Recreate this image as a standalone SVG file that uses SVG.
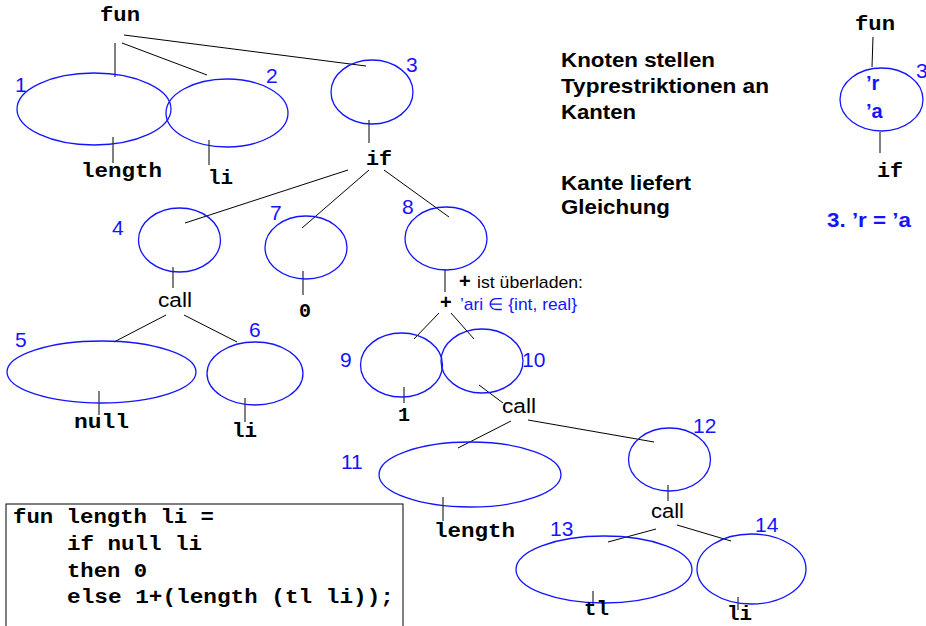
<svg xmlns="http://www.w3.org/2000/svg" width="926" height="626" viewBox="0 0 926 626">
<style>
.e{fill:none;stroke:#1414ff;stroke-width:1.3}
.c line{stroke:#000;stroke-width:1}
.m{font-family:"Liberation Mono","Courier New",monospace;font-weight:bold;font-size:20px;fill:#000}
.n{font-family:"Liberation Sans",Arial,sans-serif;font-size:21px;fill:#1414ff}
.k{font-family:"Liberation Sans",Arial,sans-serif;font-size:20px;fill:#000}
.b{font-family:"Liberation Sans",Arial,sans-serif;font-weight:bold;font-size:20px;fill:#000}
.bb{font-family:"Liberation Sans",Arial,sans-serif;font-weight:bold;font-size:20px;fill:#1414ff}
.s{font-family:"Liberation Sans",Arial,sans-serif;font-size:17px;fill:#000}
.sb{font-family:"Liberation Sans",Arial,sans-serif;font-size:17px;fill:#1414ff}
</style>
<rect width="926" height="626" fill="#fff"/>
<g class="c" id="connectors">
<line x1="115" y1="43" x2="115" y2="77"/>
<line x1="122" y1="43" x2="207" y2="75"/>
<line x1="124" y1="35" x2="366" y2="66"/>
<line x1="113" y1="137" x2="113" y2="163"/>
<line x1="209" y1="140" x2="209" y2="165"/>
<line x1="369" y1="120" x2="369" y2="143"/>
<line x1="348" y1="170" x2="185" y2="223"/>
<line x1="369" y1="170" x2="302" y2="228"/>
<line x1="384" y1="170" x2="449" y2="217"/>
<line x1="173" y1="267" x2="173" y2="288"/>
<line x1="303" y1="271" x2="303" y2="295"/>
<line x1="445" y1="269" x2="445" y2="292"/>
<line x1="166" y1="315" x2="114" y2="342"/>
<line x1="184" y1="315" x2="237" y2="342"/>
<line x1="99" y1="391" x2="99" y2="415"/>
<line x1="245" y1="398" x2="245" y2="422"/>
<line x1="439" y1="313" x2="414" y2="339"/>
<line x1="451" y1="313" x2="474" y2="339"/>
<line x1="404" y1="387" x2="404" y2="403"/>
<line x1="479" y1="385" x2="503" y2="403"/>
<line x1="511" y1="421" x2="458" y2="448"/>
<line x1="528" y1="420" x2="654" y2="442"/>
<line x1="443" y1="497" x2="443" y2="521"/>
<line x1="668" y1="485" x2="668" y2="501"/>
<line x1="656" y1="529" x2="608" y2="542"/>
<line x1="677" y1="525" x2="731" y2="541"/>
<line x1="593" y1="591" x2="593" y2="606"/>
<line x1="738" y1="597" x2="738" y2="610"/>
<line x1="873" y1="37" x2="872" y2="67"/>
<line x1="880" y1="132" x2="880" y2="153"/>
</g>
<g id="fun"><text class="m" x="100" y="21" textLength="40" lengthAdjust="spacingAndGlyphs">fun</text></g>
<g id="n1"><ellipse class="e" cx="94" cy="109" rx="77" ry="36"/><text class="n" x="15" y="92">1</text></g>
<g id="n2"><ellipse class="e" cx="227" cy="113" rx="61" ry="34"/><text class="n" x="266" y="83">2</text></g>
<g id="n3"><ellipse class="e" cx="372" cy="92" rx="41" ry="32"/><text class="n" x="406" y="72">3</text></g>
<g id="length1"><text class="m" x="81" y="177" textLength="81" lengthAdjust="spacingAndGlyphs">length</text></g>
<g id="li1"><text class="m" x="208" y="184" textLength="25" lengthAdjust="spacingAndGlyphs">li</text></g>
<g id="if"><text class="m" x="366" y="165" textLength="26" lengthAdjust="spacingAndGlyphs">if</text></g>
<g id="n4"><ellipse class="e" cx="179.5" cy="240" rx="41" ry="32"/><text class="n" x="112" y="235">4</text></g>
<g id="n7"><ellipse class="e" cx="306" cy="247.5" rx="41" ry="31.5"/><text class="n" x="270" y="220">7</text></g>
<g id="n8"><ellipse class="e" cx="446" cy="238.5" rx="41" ry="31.5"/><text class="n" x="402" y="214">8</text></g>
<g id="call1"><text class="k" x="158" y="307" textLength="34" lengthAdjust="spacingAndGlyphs">call</text></g>
<g id="zero"><text class="m" x="299" y="317">0</text></g>
<g id="plus">
<text class="b" x="440" y="309" font-size="19">+</text>
<text class="b" x="459" y="288" font-size="17">+</text>
<text class="s" x="477" y="288" textLength="106" lengthAdjust="spacingAndGlyphs">ist überladen:</text>
<text class="sb" x="460" y="310" textLength="117" lengthAdjust="spacingAndGlyphs">’ari ∈ {int, real}</text>
</g>
<g id="n5"><ellipse class="e" cx="101.5" cy="372" rx="94.5" ry="31"/><text class="n" x="15" y="347">5</text></g>
<g id="n6"><ellipse class="e" cx="255" cy="373.5" rx="48" ry="31.5"/><text class="n" x="249" y="337">6</text></g>
<g id="null"><text class="m" x="74" y="428" textLength="55" lengthAdjust="spacingAndGlyphs">null</text></g>
<g id="li2"><text class="m" x="232" y="437" textLength="25" lengthAdjust="spacingAndGlyphs">li</text></g>
<g id="n9"><ellipse class="e" cx="401.5" cy="365" rx="41" ry="32"/><text class="n" x="340" y="367">9</text></g>
<g id="n10"><ellipse class="e" cx="482" cy="361" rx="41" ry="32"/><text class="n" x="522" y="367">10</text></g>
<g id="one"><text class="m" x="398" y="421">1</text></g>
<g id="call2"><text class="k" x="502" y="413" textLength="34" lengthAdjust="spacingAndGlyphs">call</text></g>
<g id="n11"><ellipse class="e" cx="470" cy="474.5" rx="91" ry="32.5"/><text class="n" x="341" y="469">11</text></g>
<g id="n12"><ellipse class="e" cx="669.5" cy="459.5" rx="41" ry="31.5"/><text class="n" x="693" y="433">12</text></g>
<g id="length2"><text class="m" x="434" y="537" textLength="81" lengthAdjust="spacingAndGlyphs">length</text></g>
<g id="call3"><text class="k" x="651" y="518" textLength="33" lengthAdjust="spacingAndGlyphs">call</text></g>
<g id="n13"><ellipse class="e" cx="604" cy="569.5" rx="88" ry="33.5"/><text class="n" x="550" y="536">13</text></g>
<g id="n14"><ellipse class="e" cx="751.5" cy="569" rx="54.5" ry="35"/><text class="n" x="755" y="532">14</text></g>
<g id="tl"><text class="m" x="584" y="615" textLength="25" lengthAdjust="spacingAndGlyphs">tl</text></g>
<g id="li3"><text class="m" x="727" y="620" textLength="25" lengthAdjust="spacingAndGlyphs">li</text></g>
<g id="code">
<rect x="6" y="504" width="397" height="130" fill="none" stroke="#000" stroke-width="1"/>
<text class="m" x="13" y="523" textLength="201" lengthAdjust="spacingAndGlyphs">fun length li =</text>
<text class="m" x="67" y="550" textLength="135" lengthAdjust="spacingAndGlyphs">if null li</text>
<text class="m" x="67" y="577" textLength="80" lengthAdjust="spacingAndGlyphs">then 0</text>
<text class="m" x="67" y="603" textLength="327" lengthAdjust="spacingAndGlyphs">else 1+(length (tl li));</text>
</g>
<g id="notes">
<text class="b" x="561" y="67" textLength="154" lengthAdjust="spacingAndGlyphs">Knoten stellen</text>
<text class="b" x="561" y="93" textLength="208" lengthAdjust="spacingAndGlyphs">Typrestriktionen an</text>
<text class="b" x="561" y="119" textLength="75" lengthAdjust="spacingAndGlyphs">Kanten</text>
<text class="b" x="561" y="190" textLength="130" lengthAdjust="spacingAndGlyphs">Kante liefert</text>
<text class="b" x="561" y="214" textLength="109" lengthAdjust="spacingAndGlyphs">Gleichung</text>
</g>
<g id="example">
<text class="m" x="855" y="30" textLength="40" lengthAdjust="spacingAndGlyphs">fun</text>
<ellipse class="e" cx="881.5" cy="99.5" rx="41.5" ry="31.5"/>
<text class="n" x="916" y="78">3</text>
<text class="bb" x="866" y="90">’r</text>
<text class="bb" x="866" y="118">’a</text>
<text class="m" x="877" y="177" textLength="26" lengthAdjust="spacingAndGlyphs">if</text>
<text class="bb" x="827" y="227" textLength="84" lengthAdjust="spacingAndGlyphs">3. ’r = ’a</text>
</g>
</svg>
